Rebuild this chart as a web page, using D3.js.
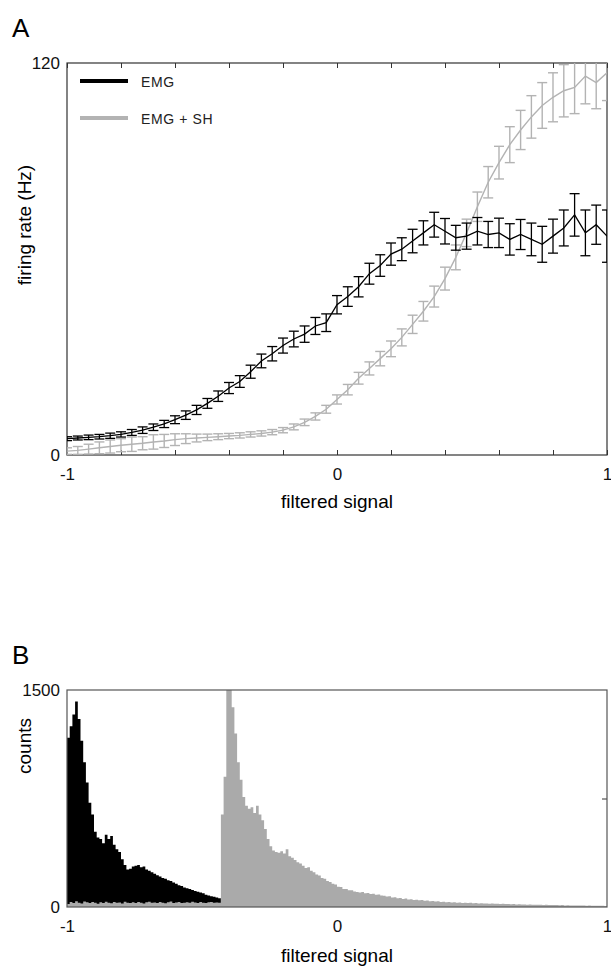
<!DOCTYPE html>
<html>
<head>
<meta charset="utf-8">
<script src="https://cdn.jsdelivr.net/npm/d3@7"></script>
<style>
  body { margin: 0; background: #fff; }
  text { font-family: "Liberation Sans", Arial, sans-serif; }
</style>
</head>
<body>
<svg id="fig" width="611" height="966"></svg>
<script>
// ---- panel A : firing rate vs filtered signal (mean +/- error) ----
const rateX = [-1, -0.96, -0.92, -0.88, -0.84, -0.8, -0.76, -0.72, -0.68, -0.64,
  -0.6, -0.56, -0.52, -0.48, -0.44, -0.4, -0.36, -0.32, -0.28, -0.24,
  -0.2, -0.16, -0.12, -0.08, -0.04, 0, 0.04, 0.08, 0.12, 0.16,
  0.2, 0.24, 0.28, 0.32, 0.36, 0.4, 0.44, 0.48, 0.52, 0.56,
  0.6, 0.64, 0.68, 0.72, 0.76, 0.8, 0.84, 0.88, 0.92, 0.96, 1];

const emgRate = [5.0, 5.2, 5.4, 5.6, 5.9, 6.3, 6.9, 7.6, 8.5, 9.5,
  10.8, 12.2, 13.8, 15.8, 18.0, 20.5, 22.5, 25.5, 28.8, 31.0,
  33.5, 35.5, 37.0, 39.5, 40.5, 46.0, 48.5, 51.5, 55.5, 58.0,
  61.5, 63.0, 65.5, 68.0, 70.5, 68.5, 66.5, 67.0, 68.5, 67.5,
  68.0, 66.0, 67.5, 66.0, 64.5, 67.0, 69.5, 73.5, 68.0, 70.5, 67.0];
const emgErr = [0.6, 0.6, 0.7, 0.7, 0.8, 0.8, 0.9, 1.0, 1.0, 1.1,
  1.2, 1.3, 1.4, 1.5, 1.6, 1.7, 1.8, 2.0, 2.1, 2.2,
  2.3, 2.4, 2.5, 2.6, 2.7, 2.8, 3.0, 3.1, 3.2, 3.3,
  3.4, 3.5, 3.6, 3.7, 3.8, 3.9, 3.8, 4.0, 4.2, 4.0,
  4.5, 4.8, 4.6, 5.0, 5.5, 5.2, 5.5, 6.5, 7.0, 6.0, 8.0];

const shRate = [1.2, 1.4, 1.8, 2.2, 2.6, 3.0, 3.3, 3.6, 4.0, 4.3,
  4.7, 5.0, 5.2, 5.4, 5.6, 5.8, 6.0, 6.3, 6.6, 7.0,
  7.6, 8.6, 10.0, 11.8, 14.0, 17.0, 20.0, 23.5, 26.5, 29.5,
  32.5, 36.0, 40.0, 44.0, 48.5, 54.0, 60.5, 68.0, 76.0, 83.5,
  89.5, 95.0, 99.5, 103.5, 107.0, 109.5, 111.5, 112.5, 116.0, 114.0, 117.0];
const shErr = [1.0, 1.2, 1.5, 1.8, 2.0, 2.0, 2.2, 2.0, 2.2, 2.0,
  1.8, 1.5, 1.2, 1.0, 0.9, 0.8, 0.8, 0.8, 0.8, 0.8,
  0.8, 0.9, 1.0, 1.1, 1.2, 1.4, 1.6, 1.8, 2.0, 2.2,
  2.4, 2.6, 2.8, 3.0, 3.2, 3.5, 3.8, 4.2, 4.5, 4.8,
  5.0, 5.5, 6.0, 6.5, 7.0, 7.5, 8.0, 8.0, 8.5, 8.0, 8.5];

const legendLabels = ["EMG", "EMG + SH"];

// ---- panel B : histograms of filtered signal, bins of 0.01 from -1 ----
const histStart = -1, binWidth = 0.01;
const emgCounts = [1170, 1250, 1330, 1420, 1300, 1150, 1000, 860, 720, 640,
  520, 480, 470, 440, 500, 470, 490, 430, 400, 380,
  330, 290, 260, 265, 280, 285, 290, 275, 280, 260,
  250, 240, 230, 220, 210, 200, 195, 185, 180, 170,
  160, 150, 145, 135, 130, 125, 118, 110, 105, 100,
  95, 85, 80, 75, 70, 65, 60];
const shCounts = [20, 35, 28, 40, 30, 25, 38, 32, 27, 35,
  30, 22, 33, 28, 36, 30, 26, 34, 29, 31,
  25, 37, 30, 28, 33, 27, 35, 30, 24, 32,
  36, 29, 31, 27, 34, 30, 26, 33, 38, 28,
  31, 35, 27, 30, 33, 29, 36, 31, 27, 34,
  30, 28, 32, 35, 29, 31, 30,
  640, 900, 1500, 1500, 1380, 1200, 1000, 880, 760, 700,
  680, 690, 650, 700, 640, 600, 540, 470, 420, 390,
  380, 375, 385, 370, 400, 350, 340, 325, 310, 300,
  285, 270, 275, 250, 240, 225, 218, 200, 195, 180,
  172, 160, 155, 140, 138, 125, 124, 115, 116, 108,
  104, 100, 103, 95, 97, 90, 92, 84, 86, 80,
  78, 72, 74, 66, 68, 60, 63, 56, 58, 52,
  54, 48, 50, 46, 48, 44, 45, 40, 42, 38,
  39, 35, 37, 33, 34, 31, 33, 30, 31, 28,
  30, 27, 29, 26, 27, 25, 26, 24, 25, 23,
  24, 22, 23, 21, 22, 20, 21, 19, 20, 18,
  19, 17, 18, 16, 17, 15, 16, 15, 15, 14,
  15, 13, 14, 13, 13, 12, 13, 11, 12, 11,
  11, 10, 11, 10, 10, 9, 10, 9, 9, 8,
  8, 8, 7];

const colors = { emg: "#000", sh: "#b3b3b3", shHist: "#aaaaaa", frame: "#333" };
const fontSize = { tick: 17, label: 19, panel: 26, legend: 14 };

const svg = d3.select("#fig");

const boxA = { left: 67, right: 607, top: 63, bottom: 455 };
const boxB = { left: 67, right: 607, top: 690, bottom: 907 };

const intLabel = d => Math.abs(d - Math.round(d)) < 1e-6 ? String(Math.round(d)) : "";

function styleAxis(g) {
  g.select(".domain").remove();
  g.selectAll("line").attr("stroke", colors.frame).attr("stroke-width", 1);
  g.selectAll("text").attr("font-size", fontSize.tick).attr("fill", "#111")
    .attr("font-family", "Liberation Sans, Arial, sans-serif");
}

// ================= panel A =================
const xA = d3.scaleLinear().domain([-1, 1]).range([boxA.left, boxA.right]);
const yA = d3.scaleLinear().domain([0, 120]).range([boxA.bottom, boxA.top]);
const xTicksA = d3.range(0, 11).map(i => -1 + i * 0.2);

svg.append("defs").append("clipPath").attr("id", "clipA")
  .append("rect")
  .attr("x", boxA.left).attr("y", boxA.top)
  .attr("width", boxA.right - boxA.left).attr("height", boxA.bottom - boxA.top);

svg.append("g").attr("transform", `translate(0,${boxA.bottom})`)
  .call(d3.axisBottom(xA).tickValues(xTicksA).tickSize(-5).tickPadding(13).tickFormat(intLabel))
  .call(styleAxis);
svg.append("g").attr("transform", `translate(0,${boxA.top})`)
  .call(d3.axisTop(xA).tickValues(xTicksA).tickSize(-5).tickFormat(""))
  .call(styleAxis);
svg.append("g").attr("transform", `translate(${boxA.left},0)`)
  .call(d3.axisLeft(yA).tickValues([0, 120]).tickSize(0).tickPadding(7).tickFormat(d3.format("d")))
  .call(styleAxis);

svg.append("rect")
  .attr("x", boxA.left).attr("y", boxA.top)
  .attr("width", boxA.right - boxA.left).attr("height", boxA.bottom - boxA.top)
  .attr("fill", "none").attr("stroke", colors.frame).attr("stroke-width", 1.2);

const plotA = svg.append("g").attr("clip-path", "url(#clipA)");

function series(rates, errs) {
  return rateX.map((x, i) => ({ x, m: rates[i], e: errs[i] }));
}

function drawSeries(data, color, width) {
  const g = plotA.append("g");
  g.append("path")
    .datum(data)
    .attr("fill", "none")
    .attr("stroke", color)
    .attr("stroke-width", width)
    .attr("d", d3.line().x(d => xA(d.x)).y(d => yA(d.m)));

  const bars = g.selectAll("g.bar").data(data).join("g").attr("class", "bar")
    .attr("stroke", color).attr("stroke-width", width);
  bars.append("line")
    .attr("x1", d => xA(d.x)).attr("x2", d => xA(d.x))
    .attr("y1", d => yA(d.m - d.e)).attr("y2", d => yA(d.m + d.e));
  [-1, 1].forEach(s => {
    bars.append("line")
      .attr("x1", d => xA(d.x) - 5).attr("x2", d => xA(d.x) + 5)
      .attr("y1", d => yA(d.m + s * d.e)).attr("y2", d => yA(d.m + s * d.e));
  });
}

drawSeries(series(shRate, shErr), colors.sh, 1.4);
drawSeries(series(emgRate, emgErr), colors.emg, 1.3);

// legend
const legend = svg.append("g");
[colors.emg, colors.sh].forEach((c, i) => {
  const yy = 81 + i * 37;
  legend.append("line")
    .attr("x1", 80).attr("x2", 128).attr("y1", yy).attr("y2", yy)
    .attr("stroke", c).attr("stroke-width", 4);
  legend.append("text")
    .attr("x", 141).attr("y", yy + 6)
    .attr("font-size", fontSize.legend)
    .attr("letter-spacing", 0.6)
    .attr("fill", "#222")
    .text(legendLabels[i]);
});

svg.append("text").attr("x", 12).attr("y", 37)
  .attr("font-size", fontSize.panel).text("A");
svg.append("text")
  .attr("x", (boxA.left + boxA.right) / 2).attr("y", 508)
  .attr("text-anchor", "middle").attr("font-size", fontSize.label)
  .text("filtered signal");
svg.append("text")
  .attr("transform", "translate(31,225) rotate(-90)")
  .attr("text-anchor", "middle").attr("font-size", fontSize.label)
  .text("firing rate (Hz)");

// ================= panel B =================
const xB = d3.scaleLinear().domain([-1, 1]).range([boxB.left, boxB.right]);
const yB = d3.scaleLinear().domain([0, 1500]).range([boxB.bottom, boxB.top]).clamp(true);

function steps(counts) {
  const pts = counts.map((c, i) => ({ x: histStart + i * binWidth, c }));
  pts.push({ x: histStart + counts.length * binWidth, c: counts[counts.length - 1] });
  return pts;
}
const histArea = d3.area()
  .curve(d3.curveStepAfter)
  .x(d => xB(d.x))
  .y0(yB(0))
  .y1(d => yB(d.c));

svg.append("path").datum(steps(emgCounts))
  .attr("fill", colors.emg).attr("d", histArea);
svg.append("path").datum(steps(shCounts))
  .attr("fill", colors.shHist).attr("d", histArea);

svg.append("g").attr("transform", `translate(0,${boxB.bottom})`)
  .call(d3.axisBottom(xB).tickValues([-1, 0, 1]).tickSize(0).tickPadding(13).tickFormat(intLabel))
  .call(styleAxis);
svg.append("g").attr("transform", `translate(${boxB.left},0)`)
  .call(d3.axisLeft(yB).tickValues([0, 1500]).tickSize(0).tickPadding(7).tickFormat(d3.format("d")))
  .call(styleAxis);
svg.append("g").attr("transform", `translate(${boxB.right},0)`)
  .call(d3.axisLeft(yB).tickValues([750]).tickSize(5).tickFormat(""))
  .call(styleAxis);

svg.append("rect")
  .attr("x", boxB.left).attr("y", boxB.top)
  .attr("width", boxB.right - boxB.left).attr("height", boxB.bottom - boxB.top)
  .attr("fill", "none").attr("stroke", "#555").attr("stroke-width", 1.2);

svg.append("text").attr("x", 12).attr("y", 664)
  .attr("font-size", fontSize.panel).text("B");
svg.append("text")
  .attr("x", (boxB.left + boxB.right) / 2).attr("y", 962)
  .attr("text-anchor", "middle").attr("font-size", fontSize.label)
  .text("filtered signal");
svg.append("text")
  .attr("transform", "translate(31,746) rotate(-90)")
  .attr("text-anchor", "middle").attr("font-size", fontSize.label)
  .text("counts");
</script>
</body>
</html>
